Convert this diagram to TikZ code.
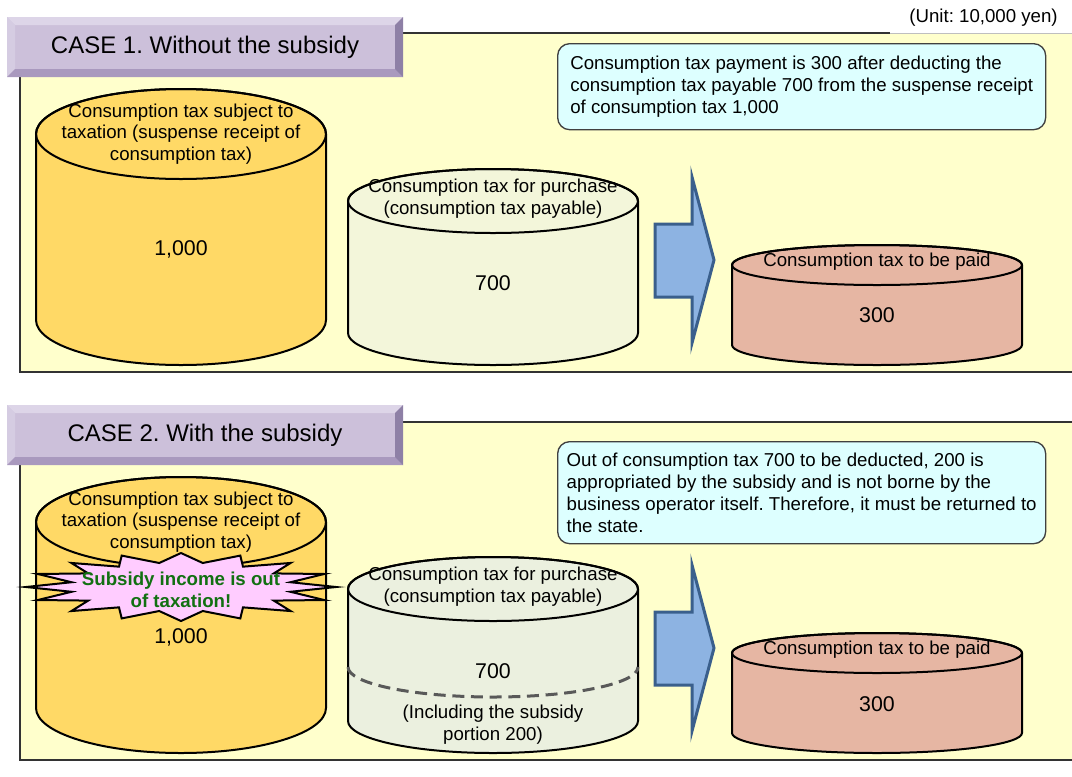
\documentclass[tikz,border=0pt]{standalone}
\usepackage{fontspec}
\setmainfont{Liberation Sans}
\usetikzlibrary{positioning}
\frenchspacing

\definecolor{panelfill}{HTML}{FFFFCC}
\definecolor{titlefill}{HTML}{CCC0DA}
\definecolor{bevellight}{HTML}{DDD5E8}
\definecolor{bevelleft}{HTML}{D5CCE2}
\definecolor{beveldark}{HTML}{A999BE}
\definecolor{bevelright}{HTML}{8E80A6}
\definecolor{drumyellow}{HTML}{FFD966}
\definecolor{drumgreen}{HTML}{F3F6DA}
\definecolor{drumgreenb}{HTML}{EBF0DF}
\definecolor{drumpink}{HTML}{E6B6A3}
\definecolor{notefill}{HTML}{DDFFFF}
\definecolor{arrowfill}{HTML}{8DB3E2}
\definecolor{arrowline}{HTML}{3A5F8C}
\definecolor{burstfill}{HTML}{FFCCFF}
\definecolor{burstgreen}{HTML}{127012}

\newcommand{\bodyfont}{\fontsize{14pt}{16.3pt}\selectfont}
\newcommand{\numfont}{\fontsize{16pt}{19pt}\selectfont}
\newcommand{\titlefont}{\fontsize{18pt}{21pt}\selectfont}

% cylinder: centre x, top y, bottom y, x radius, y radius, fill (px, y downwards)
\newcommand{\drum}[6]{%
  \filldraw[drumline, fill=#6] (#1-#4,-#2) -- (#1-#4,-#3)
    arc[start angle=180, end angle=360, x radius=#4, y radius=#5]
    -- (#1+#4,-#2)
    arc[start angle=0, end angle=180, x radius=#4, y radius=#5] -- cycle;
  \draw[drumline] (#1,-#2) ellipse[x radius=#4, y radius=#5];
}

% bevelled title bar
\newcommand{\titlebar}{%
  \fill[titlefill] (7,-17) rectangle (403,-77);
  \fill[bevellight] (7,-17) -- (403,-17) -- (395,-25) -- (15,-25) -- cycle;
  \fill[bevelleft] (7,-17) -- (15,-25) -- (15,-69) -- (7,-77) -- cycle;
  \fill[beveldark] (7,-77) -- (15,-69) -- (395,-69) -- (403,-77) -- cycle;
  \fill[bevelright] (403,-17) -- (395,-25) -- (395,-69) -- (403,-77) -- cycle;
}

\begin{document}
\begin{tikzpicture}[x=0.75pt, y=0.75pt]
	% Define custom styles to keep the drawing short.
	\tikzset{
		panel/.style={fill=panelfill},
		panelline/.style={draw=black!80, line width=1.5pt},
		faintline/.style={draw=black!25, line width=0.75pt},
		drumline/.style={draw=black, line width=1.5pt},
		cyltext/.style={font=\bodyfont, align=center, inner sep=0pt},
		numtext/.style={font=\numfont, inner sep=0pt},
		notebox/.style={draw=black!75, line width=1pt, fill=notefill, rounded corners=9pt,
			font=\fontsize{14pt}{16.5pt}\selectfont, align=left, minimum width=366pt,
			anchor=north west},
		casetitle/.style={font=\titlefont, inner sep=0pt},
		bigarrow/.style={fill=arrowfill, draw=arrowline, line width=2.25pt, line join=miter},
		burstline/.style={fill=burstfill, draw=black, line width=1.5pt, line join=miter},
		bursttext/.style={font=\bodyfont\bfseries, text=burstgreen, align=center, inner sep=0pt},
		dashline/.style={draw=black!65, line width=2.25pt, dash pattern=on 9pt off 5pt}
	}
	\useasboundingbox (0,0) rectangle (1072,-776);
	
	\node[font=\bodyfont, anchor=east, inner sep=0pt] (unit) at (1058,-18) {(Unit: 10,000 yen)};
	
	% === CASE 1 ===
	\fill[panel] (20,-33) rectangle (1072,-372);
	\draw[panelline] (890,-33) -| (20,-372) -- (1072,-372);
	\draw[faintline] (890,-33) -- (1072,-33);
	\titlebar
	\node[casetitle] (case1) at (205,-47) {CASE 1. Without the subsidy};
	
	\node[notebox, minimum height=64.5pt] (note1) at (557,-43)
		{Consumption tax payment is 300 after deducting the\\
		consumption tax payable 700 from the suspense receipt\\
		of consumption tax 1,000};
	
	\drum{181}{134}{320}{145}{45}{drumyellow}
	\drum{493}{201}{333}{145}{32}{drumgreen}
	\drum{877}{265}{345}{145}{20}{drumpink}
	\draw[bigarrow] (655,-224) -- (692,-224) -- (692,-177) -- (714,-260)
		-- (692,-343) -- (692,-297) -- (655,-297) -- cycle;
	
	\node[cyltext] (sales1) at (181,-134) {Consumption tax subject to\\taxation (suspense receipt of\\consumption tax)};
	\node[numtext] (salesnum1) at (181,-249) {1,000};
	\node[cyltext] (buy1) at (493,-199) {Consumption tax for purchase\\(consumption tax payable)};
	\node[numtext] (buynum1) at (493,-283) {700};
	\node[cyltext] (pay1) at (877,-262) {Consumption tax to be paid};
	\node[numtext] (paynum1) at (877,-315) {300};
	
	% === CASE 2 ===
	\begin{scope}[yshift=-291pt]
		\fill[panel] (20,-34) rectangle (1072,-372);
		\draw[panelline] (1072,-34) -| (20,-372) -- (1072,-372);
		\titlebar
		\node[casetitle] (case2) at (205,-47) {CASE 2. With the subsidy};
		
		\node[notebox, minimum height=76.5pt] (note2) at (557,-53)
			{Out of consumption tax 700 to be deducted, 200 is\\
			appropriated by the subsidy and is not borne by the\\
			business operator itself. Therefore, it must be returned to\\
			the state.};
		
		\drum{181}{134}{320}{145}{45}{drumyellow}
		\drum{493}{201}{333}{145}{32}{drumgreenb}
		\drum{877}{265}{345}{145}{20}{drumpink}
		\draw[dashline] (348,-279) arc[start angle=180, end angle=360, x radius=145, y radius=30];
		\draw[bigarrow] (655,-224) -- (692,-224) -- (692,-177) -- (714,-260)
			-- (692,-343) -- (692,-297) -- (655,-297) -- cycle;
		
		\node[cyltext] (sales2) at (181,-134) {Consumption tax subject to\\taxation (suspense receipt of\\consumption tax)};
		\draw[burstline] (26,-199)
			\foreach \k [evaluate=\k as \r using {mod(\k,2)==0 ? 1 : 0.72}] in {1,...,31}
			{ -- ({181-155*\r*cos(\k*11.25)}, {-199+34*\r*sin(\k*11.25)}) } -- cycle;
		\node[bursttext] (burst) at (181,-202) {Subsidy income is out\\of taxation!};
		\node[numtext] (salesnum2) at (181,-249) {1,000};
		\node[cyltext] (buy2) at (493,-199) {Consumption tax for purchase\\(consumption tax payable)};
		\node[numtext] (buynum2) at (493,-283) {700};
		\node[cyltext] (share2) at (493,-337) {(Including the subsidy\\portion 200)};
		\node[cyltext] (pay2) at (877,-262) {Consumption tax to be paid};
		\node[numtext] (paynum2) at (877,-316) {300};
	\end{scope}
\end{tikzpicture}
\end{document}
